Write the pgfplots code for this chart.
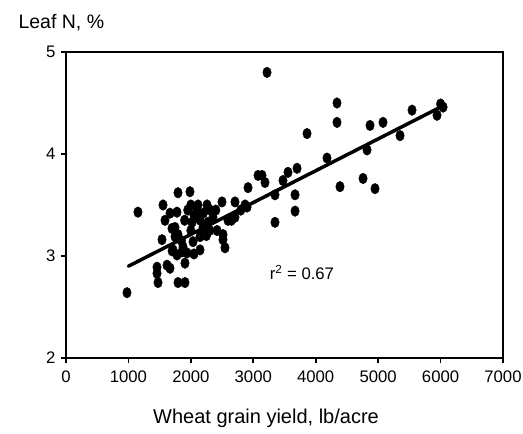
\documentclass[border=0pt]{standalone}
\usepackage{pgfplots}
\pgfplotsset{compat=1.18}
\usepackage{fontspec}
\setmainfont{Liberation Sans}
\begin{document}
\begin{tikzpicture}
\useasboundingbox (-66pt,-76pt) rectangle (457pt,358pt);
\begin{axis}[
  at={(0,0)}, anchor=south west,
  scale only axis, width=437pt, height=306pt,
  xmin=0, xmax=7000, ymin=2, ymax=5,
  xtick={0,1000,...,7000}, ytick={2,3,4,5},
  minor tick num=0,
  axis line style={line width=2pt},
  every tick/.style={line width=1.8pt, black},
  tick align=outside, major tick length=5pt,
  xtick pos=bottom, ytick pos=left,
  /pgf/number format/assume math mode=true,
  /pgf/number format/1000 sep={},
  ticklabel style={font=\fontsize{16.7}{19}\selectfont},
  xticklabel style={yshift=-4pt},
  yticklabel style={xshift=-2pt},
  clip=false,
]
\addplot[only marks, mark=*, mark size=5.3pt, mark options={xscale=0.8, fill=black, draw=black}] coordinates {
(977,2.64) (1153,3.43) (1458,2.83) (1474,2.74) (1618,2.91) (1666,2.88)
(1794,2.74) (1906,2.74) (1554,3.50) (1586,3.35) (1794,3.62) (1986,3.63)
(1538,3.16) (1778,3.43) (1746,3.28) (1794,3.21) (1778,3.01) (1906,2.93)
(1874,3.09) (2115,3.50) (2099,3.38) (2019,3.33) (2195,3.28) (2147,3.19)
(2035,3.14) (2147,3.06) (1938,3.03) (2307,3.45) (2275,3.33) (2259,3.50)
(2499,3.53) (2707,3.53) (2515,3.21) (2547,3.08) (2515,3.16) (2419,3.25)
(2355,3.38) (2595,3.35) (2707,3.38) (2900,3.48) (2916,3.67) (3076,3.79)
(3220,4.80) (4341,4.50) (4341,4.31) (3861,4.20) (4870,4.28) (5078,4.31)
(5543,4.43) (5943,4.38) (6040,4.46) (6000,4.49) (5351,4.18) (4822,4.04) (4181,3.96)
(4389,3.68) (4758,3.76) (4950,3.66) (3701,3.86) (3556,3.82) (3476,3.74)
(3669,3.60) (3669,3.44) (3348,3.33) (3348,3.60) (3140,3.79) (3188,3.72)
(2868,3.50)
(1950,3.45) (2000,3.50) (2050,3.40) (2100,3.45) (2200,3.42) (2150,3.35)
(1900,3.35) (2250,3.20) (2000,3.25) (1850,3.15) (2300,3.25) (2400,3.45)
(1700,3.05) (2050,3.02) (2650,3.35) (2800,3.45)
(1458,2.89) (1698,3.27) (1746,3.19) (1714,3.06) (1858,3.04) (1666,3.42)
};
\addplot[black, line width=3.5pt, line cap=round] coordinates {(1000,2.90) (6000,4.46)};
\node[font=\fontsize{16.7}{19}\selectfont] at (axis cs:3780,2.84) {r\textsuperscript{2} = 0.67};
\node[font=\fontsize{19.5}{22}\selectfont, anchor=base west] at (axis cs:-817,5.235) {Leaf N, \%};
\node[font=\fontsize{20}{22}\selectfont, anchor=base] at (axis cs:3204,1.36) {Wheat grain yield, lb/acre};
\end{axis}
\end{tikzpicture}
\end{document}
